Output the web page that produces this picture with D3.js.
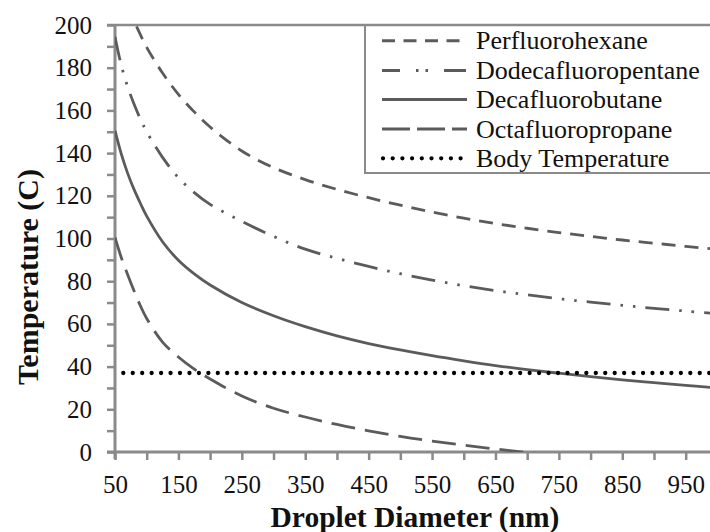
<!DOCTYPE html>
<html>
<head>
<meta charset="utf-8">
<script src="https://cdn.jsdelivr.net/npm/d3@7"></script>
<style>
  html, body { margin: 0; padding: 0; background: #fff; overflow: hidden; }
  svg { display: block; }
</style>
</head>
<body>
<svg id="chart" width="710" height="532"></svg>
<script>
// ---------------- data ----------------
const diameters = [50, 60, 70, 80, 90, 100, 125, 150, 175, 200, 250, 300, 350, 400, 450, 500, 550, 600, 650, 700, 750, 800, 850, 900, 950, 1000];
const perfluorohexane     = [230, 218, 209, 202, 195.5, 189.5, 177.5, 167.5, 159.3, 152.2, 141, 133.2, 127.6, 123, 119.1, 115.6, 112.4, 109.5, 107, 104.8, 102.8, 101, 99.3, 97.8, 96.3, 94.9];
const dodecafluoropentane = [194.5, 181, 171, 163, 156, 150, 138, 128.5, 121.5, 116, 108, 101, 95, 90.7, 86.9, 83.5, 80.5, 77.9, 75.6, 73.6, 71.8, 70.2, 68.7, 67.3, 66, 64.8];
const decafluorobutane    = [150.5, 139.5, 130.5, 123, 116.5, 110.5, 98.5, 89.8, 83.4, 78.2, 70, 63.8, 58.7, 54.4, 50.8, 47.8, 45.1, 42.7, 40.5, 38.6, 36.9, 35.3, 33.8, 32.5, 31.2, 30];
const octafluoropropane   = [100.5, 91, 83, 75.5, 68.5, 62.5, 51.5, 44.5, 38.8, 34.2, 26.2, 20.5, 16.4, 12.9, 9.9, 7.3, 5.1, 3.2, 1.4, -0.2, -1.7, -3.0, -4.2, -5.3, -6.3, -7.2];
const bodyTemperature = 37;
const seriesNames = ["Perfluorohexane", "Dodecafluoropentane", "Decafluorobutane", "Octafluoropropane", "Body Temperature"];
const yTicks = [0, 10, 20, 30, 40, 50, 60, 70, 80, 90, 100, 110, 120, 130, 140, 150, 160, 170, 180, 190, 200];
const xTicks = [50, 100, 150, 200, 250, 300, 350, 400, 450, 500, 550, 600, 650, 700, 750, 800, 850, 900, 950, 1000];
const xTitle = "Droplet Diameter (nm)";
const yTitle = "Temperature (C)";

(function () {
// ---------------- layout ----------------
const svg = d3.select("#chart");
const pLeft = 115, pRight = 717.4, pTop = 25, pBottom = 452;
const x = d3.scaleLinear().domain([50, 1000]).range([pLeft, pRight]);
const y = d3.scaleLinear().domain([0, 200]).range([pBottom, pTop]);

const axisColor = "#8a8a8a";
const lineColor = "#5b5b5b";
const serif = "Liberation Serif, Times New Roman, Times, serif";

// clip
svg.append("defs").append("clipPath").attr("id", "plotclip")
  .append("rect").attr("x", pLeft).attr("y", pTop).attr("width", pRight - pLeft).attr("height", pBottom - pTop);

// styles per series
const styles = [
  { data: perfluorohexane,     dash: "14,9",                 legendDash: "13,8.5" },
  { data: dodecafluoropentane, dash: "24,10,2.5,10,2.5,10",  legendDash: "18,16,2.5,7,2.5,16,22" },
  { data: decafluorobutane,    dash: null,                   legendDash: null },
  { data: octafluoropropane,   dash: "24,10",                legendDash: "28,7" }
];

// ---------------- axes ----------------
const yAxis = d3.axisLeft(y).tickValues(yTicks).tickSize(8).tickPadding(15)
  .tickFormat(d => d % 20 === 0 ? d : "");
const gy = svg.append("g").attr("transform", `translate(${pLeft},0)`).call(yAxis);

const xAxis = d3.axisBottom(x).tickValues(xTicks).tickSize(8).tickPadding(15)
  .tickFormat(d => (d - 50) % 100 === 0 ? d : "");
const gx = svg.append("g").attr("transform", `translate(0,${pBottom})`).call(xAxis);

[gx, gy].forEach(g => {
  g.attr("font-family", serif).attr("font-size", 25);
  g.select(".domain").remove();
  g.selectAll(".tick line").attr("stroke", axisColor).attr("stroke-width", 2.5);
  g.selectAll(".tick text").attr("fill", "#111").attr("font-family", serif).attr("font-size", 25);
});

// axis lines
svg.append("line").attr("x1", pLeft).attr("x2", pLeft).attr("y1", pTop).attr("y2", pBottom + 7)
  .attr("stroke", axisColor).attr("stroke-width", 3);
svg.append("line").attr("x1", pLeft - 8).attr("x2", 720).attr("y1", pBottom).attr("y2", pBottom)
  .attr("stroke", axisColor).attr("stroke-width", 3);

// ---------------- curves ----------------
const plot = svg.append("g").attr("clip-path", "url(#plotclip)");
const lineGen = d3.line().x((d, i) => x(diameters[i])).y(d => y(d)).curve(d3.curveCatmullRom.alpha(0.5));

styles.forEach(s => {
  plot.append("path").datum(s.data)
    .attr("d", lineGen)
    .attr("fill", "none")
    .attr("stroke", lineColor)
    .attr("stroke-width", 2.8)
    .attr("stroke-dasharray", s.dash);
});

// body temperature dotted line
plot.append("line")
  .attr("x1", x(50)).attr("x2", x(1000))
  .attr("y1", y(bodyTemperature)).attr("y2", y(bodyTemperature))
  .attr("stroke", "#000").attr("stroke-width", 4.3)
  .attr("stroke-linecap", "round")
  .attr("stroke-dasharray", "0,9.45")
  .attr("stroke-dashoffset", 1.15);

// ---------------- legend ----------------
const legend = svg.append("g");
legend.append("rect").attr("x", 365).attr("y", pTop).attr("width", 360).attr("height", 173 - pTop)
  .attr("fill", "#fff").attr("stroke", axisColor).attr("stroke-width", 2);
const rowY = [40.7, 70.5, 99.6, 129, 158.3];
seriesNames.forEach((name, i) => {
  const ly = rowY[i];
  if (i < 4) {
    legend.append("line").attr("x1", 382).attr("x2", 467).attr("y1", ly).attr("y2", ly)
      .attr("stroke", lineColor).attr("stroke-width", 3)
      .attr("stroke-dasharray", styles[i].legendDash);
  } else {
    legend.append("line").attr("x1", 383).attr("x2", 462).attr("y1", ly).attr("y2", ly)
      .attr("stroke", "#000").attr("stroke-width", 4.3).attr("stroke-linecap", "round")
      .attr("stroke-dasharray", "0,9.7");
  }
  legend.append("text").attr("x", 476).attr("y", ly + 8.5)
    .attr("fill", "#111").attr("font-family", serif).attr("font-size", 26)
    .text(name);
});

// top frame line (drawn over legend)
svg.append("line").attr("x1", pLeft - 8).attr("x2", 720).attr("y1", pTop).attr("y2", pTop)
  .attr("stroke", axisColor).attr("stroke-width", 2.5);

// ---------------- titles ----------------
svg.append("text").attr("x", 415).attr("y", 527).attr("text-anchor", "middle")
  .attr("fill", "#111").attr("font-family", serif).attr("font-size", 29.5).attr("font-weight", "bold")
  .text(xTitle);
svg.append("text").attr("transform", "translate(38,277) rotate(-90)").attr("text-anchor", "middle")
  .attr("fill", "#111").attr("font-family", serif).attr("font-size", 30).attr("font-weight", "bold")
  .text(yTitle);
})();
</script>
</body>
</html>
